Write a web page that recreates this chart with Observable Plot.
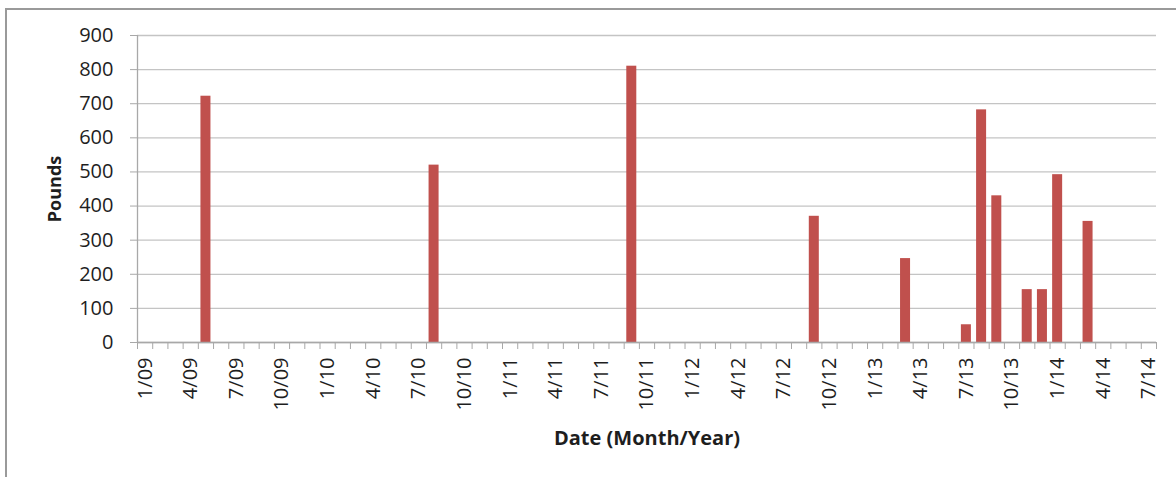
<!DOCTYPE html>
<html>
<head>
<meta charset="utf-8">
<script src="https://cdn.jsdelivr.net/npm/d3@7"></script>
<script src="https://cdn.jsdelivr.net/npm/@observablehq/plot@0.6"></script>
<style>
  html, body { margin: 0; padding: 0; background: #fff; overflow: hidden; }
  #wrap { position: relative; width: 1176px; height: 477px; overflow: hidden; background: #fff; }
  #frame { position: absolute; left: 5px; top: 8px; width: 1200px; height: 500px;
           border-top: 2px solid #9a9a9a; border-left: 2px solid #9a9a9a; pointer-events: none; }
  #chart svg { display: block; }
  #chart [aria-label="y-axis tick"], #chart [aria-label="x-axis tick"] { stroke: #a8a8a8; }
</style>
</head>
<body>
<div id="wrap"><div id="chart"></div><div id="frame"></div></div>
<script>
// Categories: one per month, January 2009 to July 2014
const months = [
  "1/09","2/09","3/09","4/09","5/09","6/09","7/09","8/09","9/09","10/09","11/09","12/09",
  "1/10","2/10","3/10","4/10","5/10","6/10","7/10","8/10","9/10","10/10","11/10","12/10",
  "1/11","2/11","3/11","4/11","5/11","6/11","7/11","8/11","9/11","10/11","11/11","12/11",
  "1/12","2/12","3/12","4/12","5/12","6/12","7/12","8/12","9/12","10/12","11/12","12/12",
  "1/13","2/13","3/13","4/13","5/13","6/13","7/13","8/13","9/13","10/13","11/13","12/13",
  "1/14","2/14","3/14","4/14","5/14","6/14","7/14"
];
// Months that have a value, and the value in pounds
const barMonths = ["5/09","8/10","9/11","9/12","3/13","7/13","8/13","9/13","11/13","12/13","1/14","3/14"];
const barValues = [722, 520, 810, 370, 246, 52, 682, 430, 155, 155, 492, 355];
// Tick labels on the category axis
const tickLabels = ["1/09","4/09","7/09","10/09","1/10","4/10","7/10","10/10","1/11","4/11","7/11","10/11",
  "1/12","4/12","7/12","10/12","1/13","4/13","7/13","10/13","1/14","4/14","7/14"];
const yTicks = [0, 100, 200, 300, 400, 500, 600, 700, 800, 900];

const bars = barMonths.map((m, k) => ({i: months.indexOf(m), value: barValues[k]}));
const boundaries = d3.range(0, months.length + 1);
const labelPos = tickLabels.map(t => months.indexOf(t) + 0.5);

const chart = Plot.plot({
  width: 1176,
  height: 477,
  marginLeft: 137,
  marginRight: 20,
  marginTop: 35,
  marginBottom: 135,
  x: {domain: [0, months.length], axis: null},
  y: {domain: [0, 900], axis: null},
  style: {fontFamily: "'Open Sans', sans-serif", fontSize: "20px", color: "#1e1e1e", background: "transparent"},
  marks: [
    Plot.gridY(yTicks, {stroke: "#c4c4c4", strokeOpacity: 1, strokeWidth: 1.3}),
    Plot.axisY(yTicks, {tickSize: 7, tickPadding: 17, tickFormat: d => String(d), label: null, fontSize: 20}),
    Plot.ruleX([0], {stroke: "#a8a8a8", strokeWidth: 1.3}),
    Plot.rectY(bars, {x: "i", interval: 1, y: "value", insetLeft: 2.6, insetRight: 2.6, fill: "#c0504d"}),
    Plot.ruleY([0], {stroke: "#a8a8a8", strokeWidth: 1.3}),
    Plot.axisX(boundaries, {tickSize: 7, tickFormat: () => "", label: null}),
    Plot.axisX(labelPos, {tickSize: 0, tickPadding: 15, tickRotate: -90, fontSize: 20, tickFormat: d => months[d - 0.5], label: null}),
    Plot.text(["Date (Month/Year)"], {frameAnchor: "bottom", dy: 102, fontWeight: "bold", fontSize: 20, fill: "#1e1e1e"}),
    Plot.text(["Pounds"], {frameAnchor: "left", dx: -82, rotate: -90, textAnchor: "middle", fontWeight: "bold", fontSize: 18, fill: "#1e1e1e"})
  ]
});
document.getElementById("chart").appendChild(chart);
</script>
</body>
</html>
